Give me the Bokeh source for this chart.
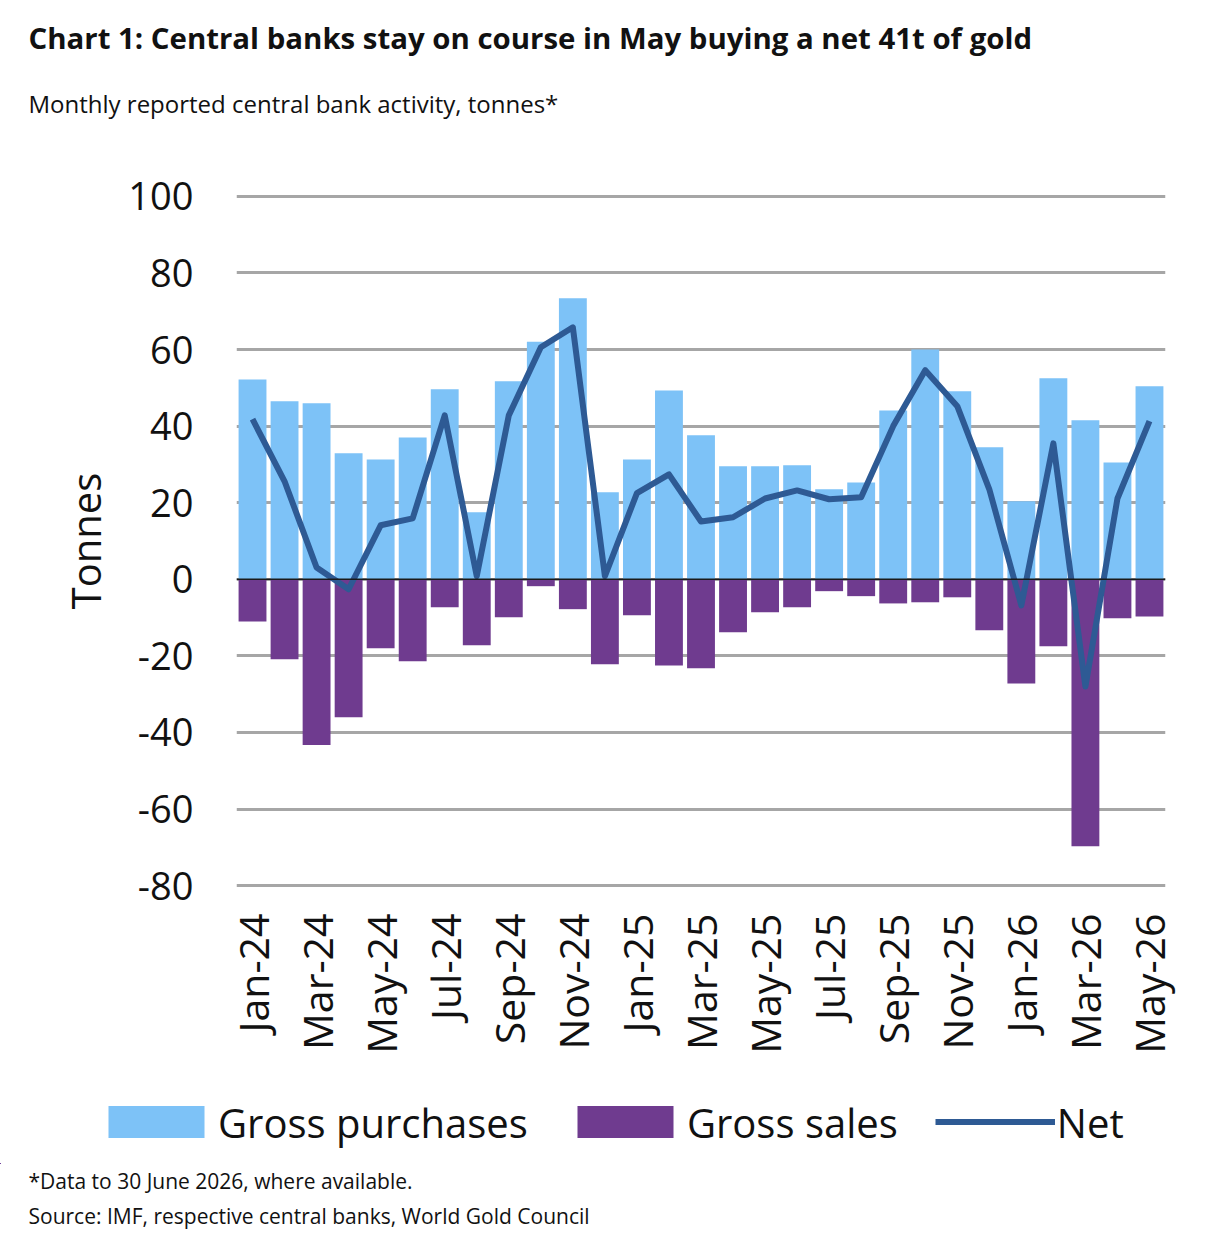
from math import pi
from bokeh.plotting import figure
from bokeh.layouts import column, row
from bokeh.models import (FixedTicker, Range1d, Span, Legend, LegendItem, Title, Label,
                          ColumnDataSource, PrintfTickFormatter)
from bokeh.embed import file_html
from bokeh.resources import INLINE

months = ["Jan-24", "Feb-24", "Mar-24", "Apr-24", "May-24", "Jun-24", "Jul-24", "Aug-24",
          "Sep-24", "Oct-24", "Nov-24", "Dec-24", "Jan-25", "Feb-25", "Mar-25", "Apr-25",
          "May-25", "Jun-25", "Jul-25", "Aug-25", "Sep-25", "Oct-25", "Nov-25", "Dec-25",
          "Jan-26", "Feb-26", "Mar-26", "Apr-26", "May-26"]
gross_purchases = [52.2, 46.5, 46.0, 32.9, 31.3, 37.0, 49.6, 17.5, 51.7, 62.0, 73.4, 22.7,
                   31.3, 49.3, 37.6, 29.5, 29.5, 29.8, 23.5, 25.3, 44.1, 60.0, 49.1, 34.5,
                   20.4, 52.5, 41.5, 30.5, 50.4]
gross_sales = [-11.0, -20.9, -43.3, -36.0, -18.0, -21.4, -7.3, -17.2, -9.9, -1.8, -7.8, -22.2,
               -9.4, -22.5, -23.2, -13.8, -8.6, -7.3, -3.1, -4.4, -6.3, -6.0, -4.7, -13.3,
               -27.2, -17.5, -69.7, -10.2, -9.7]
net = [41.8, 25.6, 3.1, -2.6, 14.1, 15.9, 42.8, 0.8, 42.8, 60.6, 65.8, 0.8,
       22.5, 27.4, 15.1, 16.2, 21.1, 23.2, 20.9, 21.4, 40.0, 54.6, 45.2, 23.5,
       -6.8, 35.5, -28.0, 21.1, 41.3]
y_ticks = [-80, -60, -40, -20, 0, 20, 40, 60, 80, 100]

FONT = "Open Sans"
BLUE = "#7DC2F7"
PURPLE = "#6F3B8F"
NAVY = "#2E5A94"
TXT = "#111111"

idx = list(range(len(months)))
src = ColumnDataSource(dict(x=idx, month=months, buy=gross_purchases, sell=gross_sales, net=net))

W = 1221
H_TOP = 150
H1 = 930
H2 = 1233 - H_TOP - H1


def blank_strip(height, **kw):
    f = figure(width=W, height=height, output_backend="svg", toolbar_location=None,
               x_range=Range1d(1000, 1001), y_range=Range1d(1000, 1001),
               x_axis_location=None, y_axis_location=None,
               min_border_left=0, min_border_right=0, min_border_top=0,
               min_border_bottom=kw.get("bottom", 0))
    f.outline_line_color = None
    f.xgrid.visible = False
    f.ygrid.visible = False
    f.background_fill_color = "white"
    f.border_fill_color = "white"
    return f


# ---- heading strip
t = blank_strip(H_TOP)
t.add_layout(Label(x=28, y=H_TOP - 37, x_units="screen", y_units="screen",
                   text="Chart 1: Central banks stay on course in May buying a net 41t of gold",
                   text_font=FONT, text_font_size="29.4px", text_font_style="bold",
                   text_color=TXT, text_baseline="middle", text_align="left"))
t.add_layout(Label(x=28, y=H_TOP - 103, x_units="screen", y_units="screen",
                   text="Monthly reported central bank activity, tonnes*",
                   text_font=FONT, text_font_size="24px",
                   text_color=TXT, text_baseline="middle", text_align="left"))

# ---- main chart
ML, MR = 236, 56
MT = 192 - H_TOP
MB = (H_TOP + H1) - 889

p = figure(width=W, height=H1, output_backend="svg", toolbar_location=None,
           x_range=Range1d(-0.5, len(months) - 0.5), y_range=Range1d(-81, 101),
           min_border_left=ML, min_border_right=MR, min_border_top=MT, min_border_bottom=MB)
p.outline_line_color = None
p.background_fill_color = "white"
p.border_fill_color = "white"

bar_kw = dict(x="x", width=0.87, source=src, line_color=None)
line_kw = dict(x="x", y="net", source=src, line_color=NAVY, line_width=6, line_join="round")

p.vbar(top="buy", bottom=0, fill_color=BLUE, **bar_kw)
p.vbar(top=0, bottom="sell", fill_color=PURPLE, **bar_kw)
p.add_layout(Span(location=0, dimension="width", line_color="#1a1a1a", line_width=1.5))
p.line(**line_kw)

p.xgrid.visible = False
p.ygrid.ticker = FixedTicker(ticks=y_ticks)
p.ygrid.grid_line_color = "#a6a6a6"
p.ygrid.grid_line_width = 3

p.yaxis.ticker = FixedTicker(ticks=y_ticks)
p.yaxis.formatter = PrintfTickFormatter(format="%d")
p.yaxis.axis_line_color = None
p.yaxis.major_tick_line_color = None
p.yaxis.minor_tick_line_color = None
p.yaxis.major_label_text_font = FONT
p.yaxis.major_label_text_font_size = "38px"
p.yaxis.major_label_text_color = TXT
p.yaxis.major_label_standoff = 37
p.yaxis.axis_label = "Tonnes"
p.yaxis.axis_label_text_font = FONT
p.yaxis.axis_label_text_font_size = "40px"
p.yaxis.axis_label_text_font_style = "normal"
p.yaxis.axis_label_text_color = TXT
p.yaxis.axis_label_standoff = 12

p.xaxis.ticker = FixedTicker(ticks=idx[::2])
p.xaxis.major_label_overrides = {i: months[i] for i in idx}
p.xaxis.major_label_orientation = pi / 2
p.xaxis.axis_line_color = None
p.xaxis.major_tick_line_color = None
p.xaxis.minor_tick_line_color = None
p.xaxis.major_label_text_font = FONT
p.xaxis.major_label_text_font_size = "41px"
p.xaxis.major_label_text_color = TXT
p.xaxis.major_label_standoff = 18

# ---- legend strip + footnotes (glyphs reuse the data, outside this strip's visible range)
LEG_FRAME = 88
q = blank_strip(H2, bottom=H2 - LEG_FRAME)

e_buy = q.vbar(top="buy", bottom=0, fill_color=BLUE, **bar_kw)
e_sell = q.vbar(top=0, bottom="sell", fill_color=PURPLE, **bar_kw)
e_net = q.line(**line_kw)

legend = Legend(items=[LegendItem(label="Gross purchases", renderers=[e_buy]),
                       LegendItem(label="Gross sales", renderers=[e_sell]),
                       LegendItem(label="Net", renderers=[e_net])],
                orientation="horizontal", location="left",
                glyph_width=120, glyph_height=40, label_text_font=FONT,
                label_text_font_size="40px", label_text_color=TXT,
                spacing=37, label_standoff=2, border_line_color=None,
                background_fill_alpha=0, padding=0, margin=96)
q.add_layout(legend, "center")


def add_note(txt, standoff):
    q.add_layout(Title(text=txt, text_font=FONT, text_font_size="21px",
                       text_font_style="normal", text_color=TXT, align="left",
                       offset=28, standoff=standoff), "below")


add_note("*Data to 30 June 2026, where available.", 2)
add_note("Source: IMF, respective central banks, World Gold Council", 8)

open("out.html", "w").write(file_html(column(row(t), row(p), row(q)), INLINE))
